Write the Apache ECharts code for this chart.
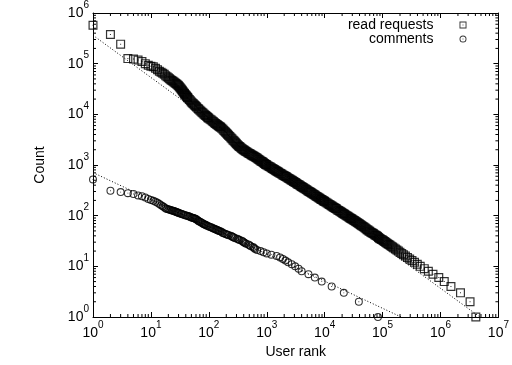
<!DOCTYPE html>
<html>
<head>
<meta charset="utf-8">
<script src="https://cdn.jsdelivr.net/npm/echarts@6/dist/echarts.min.js"></script>
<style>
html,body{margin:0;padding:0;background:#fff;}
#chart{width:512px;height:365px;}
</style>
</head>
<body>
<div id="chart"></div>
<script>
// ---- data (rank, count) ----
const readRank = [1,2,3,4,5,6,7,8,9,10,11,12,13,14,15,16,17,18,19,20,21,22,23,24,25,26,27,28,29,30,31,32,33,34,35,36,37,38,39,40,41,42,43,44,46,48,50,52,54,56,58,60,62,65,67,70,73,76,79,82,85,88,91,95,97,100,105,110,115,120,125,130,135,140,145,150,155,160,167,175,182,190,197,205,212,220,230,240,250,260,270,280,290,300,312,325,337,350,365,380,395,410,425,440,460,480,500,520,540,560,580,600,625,650,675,700,730,760,790,820,850,880,915,950,975,1000,1050,1100,1150,1200,1250,1300,1350,1400,1450,1500,1550,1600,1675,1750,1825,1900,1975,2050,2125,2200,2300,2400,2500,2600,2700,2800,2900,3000,3125,3250,3375,3500,3650,3800,3950,4100,4250,4400,4600,4800,5000,5200,5400,5600,5800,6000,6250,6500,6750,7000,7300,7600,7900,8200,8500,8800,9150,9500,9750,10000,10500,11000,11500,12000,12500,13000,13500,14000,14500,15000,15500,16000,16750,17500,18250,19000,19750,20500,21250,22000,23000,24000,25000,26000,27000,28000,29000,30000,31250,32500,33750,35000,36500,38000,39500,41000,42500,44000,46000,48000,50000,52000,54000,56000,58000,60000,62500,65000,67500,70000,73000,76000,79000,82000,85000,88000,91000,95000,99500,103800,108100,112500,117500,122700,128500,134600,141300,148900,157000,166300,176200,187100,199500,213800,229100,247700,268500,293100,321400,355600,397200,446700,524800,616600,741300,933300,1161000,1514000,2213000,3236000,4074000];
const readCount = [575000,376000,243000,126000,123000,117500,110000,100000,93300,89100,87100,81300,75900,70800,67600,64600,61700,57500,55000,52500,50300,48300,46500,44900,43400,41900,40500,39200,37900,36600,35100,33600,32000,30500,29100,27900,26800,25700,24700,23800,22900,22200,21400,20700,19600,18500,17600,16800,16100,15500,14900,14300,13800,13100,12600,12100,11500,11000,10600,10200,9800,9460,9150,8810,8600,8400,8030,7690,7390,7100,6850,6610,6400,6200,6020,5850,5690,5530,5290,5060,4810,4570,4370,4170,4000,3840,3640,3450,3290,3130,3000,2870,2750,2640,2520,2400,2310,2230,2150,2080,2010,1950,1890,1840,1780,1720,1680,1640,1600,1560,1520,1490,1450,1410,1370,1330,1290,1245,1205,1170,1140,1110,1075,1040,1020,1000,967,936,908,881,856,832,811,791,772,754,737,721,698,676,657,638,621,605,591,577,560,543,528,513,500,487,474,462,449,436,424,413,401,389,378,367,358,349,338,327,317,308,300,292,285,278,270,262,255,248,240,233,226,220,214,209,203,198,194,191,184,178,172,167,162,157,153,149,145,141,138,135,130,126,122,119,115,112,109,107,103,100,97,94,91,89,87,85,82,80,78,76,73,71,69,67,65,63,61,59,57,55,53,52,50,49,47,46,45,44,42,41,40,39,37,36,35,34,33,32,31,30,29,28,27,26,25,24,23,22,21,20,19,18,17,16,15,14,13,12,11,10,9,8,7,6,5,4,3,2,1];

const commentRank = [1,2,3,4,5,6,7,8,9,10,11,12,13,14,15,16,17,18,19,20,21,22,23,24,25,26,27,28,29,30,31,33,34,36,38,40,42,44,46,48,50,52,54,56,58,60,62,65,67,70,73,76,79,82,85,88,91,95,100,105,110,115,120,125,130,135,140,145,150,157,165,172,180,190,200,210,220,240,250,260,270,285,310,325,340,370,385,400,420,440,480,505,530,580,605,630,680,780,880,1000,1200,1480,1700,1900,2100,2340,2700,3090,3550,4000,5250,6760,8900,13200,21400,38900,83200];
const commentCount = [520,310,292,278,268,251,242,229,214,204,196,188,179,169,160,153,146,139,136,134,131,129,127,125,123,121,119,117,115,114,112,109,108,106,103,101,100,98,96,94,92,91,90,89,87,86,83,80,78,76,74,72,70,68,67,66,64,63,61,60,59,57,56,55,54,53,52,51,50,49,48,46,45,44,43,42,41,40,39,38,37,36,35,34,33,32,31,30,29,28,27,26,25,24,23,22,21,20,19,18,17,16,15,14,13,12,11,10,9,8,7,6,5,4,3,2,1];

// power-law fit lines (end points)
const readFitRank = [1, 4790000];
const readFitCount = [363000, 1];
const commentFitRank = [1, 209000];
const commentFitCount = [708, 1];

const seriesNames = ['read requests', 'comments'];
const axisNames = { x: 'User rank', y: 'Count' };
const minorMultipliers = [2, 3, 4, 5, 6, 7, 8, 9];   // log-axis minor tick positions within a decade

// ---- drawing ----
const pairs = (a, b) => a.map((v, i) => [v, b[i]]);
const SQ = 'path://M0,0H18V18H0Z M2.4,2.4V15.6H15.6V2.4Z M8,8H10V10H8Z';
const CI = 'path://M9,0A9,9,0,1,1,9,18A9,9,0,1,1,9,0Z M9,2.4A6.6,6.6,0,1,0,9,15.6A6.6,6.6,0,1,0,9,2.4Z M8,8H10V10H8Z';
const FONT = '"Liberation Sans", Arial, Helvetica, sans-serif';
const rich = {
  b: { fontSize: 14, lineHeight: 14, verticalAlign: 'bottom', color: '#000', fontFamily: FONT },
  s: { fontSize: 10, lineHeight: 20, verticalAlign: 'top', padding: [0, 0, 10, 0], color: '#000', fontFamily: FONT }
};
const fmt = v => '{b|10}{s|' + Math.round(Math.log10(v)) + '}';
const lineCol = { color: '#000', width: 1 };

function minorVals(decades) {
  const out = [];
  for (let e = 0; e < decades; e++) minorMultipliers.forEach(m => out.push(m * Math.pow(10, e)));
  return out;
}
const xMinor = minorVals(7), yMinor = minorVals(6);

function logAxis(extra) {
  return Object.assign({
    type: 'log', logBase: 10,
    axisLine: { show: true, lineStyle: lineCol },
    axisTick: { show: true, inside: true, length: 5, lineStyle: lineCol },
    splitLine: { show: false },
    minorSplitLine: { show: false }
  }, extra);
}

const tickStyle = { stroke: '#000', lineWidth: 1 };
function minorX(params, api) {
  const cs = params.coordSys;
  const x = api.coord([api.value(0), 1])[0];
  const b = cs.y + cs.height, t = cs.y;
  return { type: 'group', children: [
    { type: 'line', shape: { x1: x, y1: b, x2: x, y2: b - 3 }, style: tickStyle },
    { type: 'line', shape: { x1: x, y1: t, x2: x, y2: t + 3 }, style: tickStyle }
  ] };
}
function minorY(params, api) {
  const cs = params.coordSys;
  const y = api.coord([1, api.value(1)])[1];
  const l = cs.x, r = cs.x + cs.width;
  return { type: 'group', children: [
    { type: 'line', shape: { x1: l, y1: y, x2: l + 3, y2: y }, style: tickStyle },
    { type: 'line', shape: { x1: r, y1: y, x2: r - 3, y2: y }, style: tickStyle }
  ] };
}

const chart = echarts.init(document.getElementById('chart'), null, { renderer: 'canvas' });
chart.setOption({
  animation: false,
  backgroundColor: '#fff',
  textStyle: { fontFamily: FONT, color: '#000' },
  grid: { left: 93, right: 10, top: 11, bottom: 48 },
  legend: {
    orient: 'vertical', right: 45.5, top: 18, align: 'right', padding: 0,
    itemWidth: 7, itemHeight: 7, itemGap: 0,
    textStyle: { fontSize: 14, lineHeight: 14, color: '#000', fontFamily: FONT, padding: [0, 21, 0, 0] },
    data: [{ name: seriesNames[0], icon: SQ }, { name: seriesNames[1], icon: CI }]
  },
  xAxis: [
    logAxis({ min: 1, max: 1e7, splitNumber: 7, position: 'bottom',
      name: axisNames.x, nameLocation: 'middle', nameGap: 27,
      nameTextStyle: { fontSize: 14, color: '#000', fontFamily: FONT },
      axisLabel: { margin: 3, formatter: fmt, rich: rich, verticalAlign: 'top', align: 'center' } }),
    logAxis({ min: 1, max: 1e7, splitNumber: 7, position: 'top', axisLabel: { show: false } })
  ],
  yAxis: [
    logAxis({ min: 1, max: 1e6, splitNumber: 6, position: 'left',
      name: axisNames.y, nameLocation: 'middle', nameGap: 46,
      nameTextStyle: { fontSize: 14, color: '#000', fontFamily: FONT },
      axisLabel: { margin: 4, formatter: fmt, rich: rich, padding: [0, 0, 6, 0], align: 'right', verticalAlign: 'middle' } }),
    logAxis({ min: 1, max: 1e6, splitNumber: 6, position: 'right', axisLabel: { show: false } })
  ],
  series: [
    { type: 'custom', name: 'xminor', data: xMinor.map(v => [v, 1]), renderItem: minorX, silent: true, clip: false, z: 0 },
    { type: 'custom', name: 'yminor', data: yMinor.map(v => [1, v]), renderItem: minorY, silent: true, clip: false, z: 0 },
    { name: seriesNames[0] + ' fit', type: 'line', data: pairs(readFitRank, readFitCount), symbol: 'none', silent: true,
      lineStyle: { color: '#000', width: 1, type: [1, 2] }, z: 1 },
    { name: seriesNames[1] + ' fit', type: 'line', data: pairs(commentFitRank, commentFitCount), symbol: 'none', silent: true,
      lineStyle: { color: '#000', width: 1, type: [1, 2] }, z: 1 },
    { name: seriesNames[0], type: 'scatter', data: pairs(readRank, readCount), symbol: SQ, symbolSize: 9,
      large: false, itemStyle: { color: '#000', borderWidth: 0 }, z: 2 },
    { name: seriesNames[1], type: 'scatter', data: pairs(commentRank, commentCount), symbol: CI, symbolSize: 8,
      large: false, itemStyle: { color: '#000', borderWidth: 0 }, z: 2 }
  ]
});
</script>
</body>
</html>
